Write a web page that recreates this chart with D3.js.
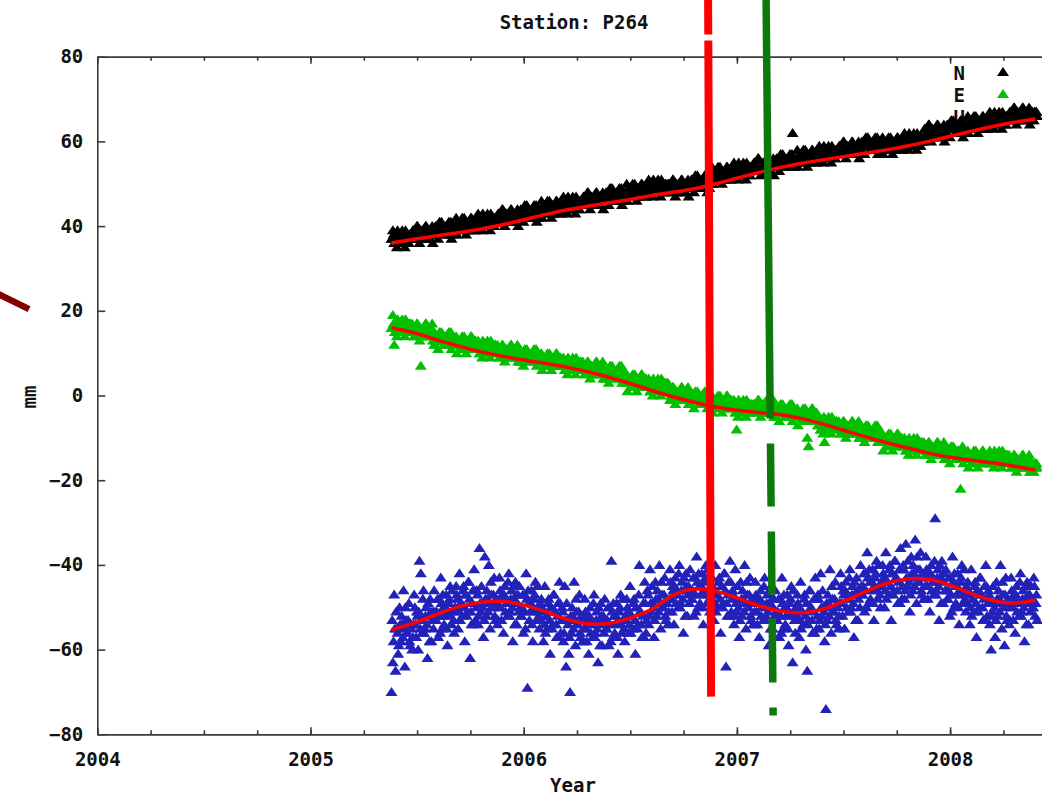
<!DOCTYPE html>
<html>
<head>
<meta charset="utf-8">
<title>Station: P264</title>
<script src="https://cdn.jsdelivr.net/npm/d3@7"></script>
<style>
body{margin:0;background:#fff;overflow:hidden;}
svg text{font-family:"DejaVu Sans Mono",monospace;font-weight:bold;fill:#111;}
</style>
</head>
<body>
<div id="chart"></div>
<script>
//------- Data
// solutions are read every 0.00625 yr starting at the first epoch,
// the *Mid arrays hold the solutions half a step later
var firstEpoch = 2005.38, epochStep = 0.00625;

// North (mm), 16 values per 0.1 yr
var northValues = [
	37,39,36,38,35,37,38,36,39,37,35,38,37,36,38,37,
	39,37,38,40,38,36,39,38,37,39,40,38,37,38,39,36,
	38,40,39,37,41,39,40,38,39,40,39,41,38,37,40,39,
	40,38,41,40,39,42,40,41,38,40,39,41,42,40,39,41,
	41,43,40,42,39,41,42,40,43,41,39,42,41,40,42,41,
	43,41,42,44,42,40,43,42,41,43,44,42,41,42,43,40,
	42,44,43,41,45,43,44,42,43,44,43,45,42,41,44,43,
	44,42,45,44,43,46,44,45,42,44,43,45,46,44,43,45,
	45,47,44,46,43,45,46,44,47,45,43,46,45,44,46,45,
	47,45,46,48,46,44,47,46,45,47,48,46,45,46,47,44,
	46,48,47,45,49,47,48,46,47,48,47,49,46,45,48,47,
	48,46,49,48,47,50,48,49,46,48,47,49,50,48,47,49,
	49,51,48,50,47,49,50,48,51,49,47,50,49,48,50,49,
	50,48,49,51,49,47,50,49,48,50,51,49,48,49,50,47,
	49,51,50,48,52,50,51,49,50,51,50,52,49,48,51,50,
	52,50,53,52,51,54,52,53,50,52,51,53,54,52,51,53,
	53,55,52,54,51,53,54,52,55,53,51,54,53,52,54,53,
	55,53,54,56,54,52,55,54,53,55,56,54,53,54,55,52,
	54,56,55,53,57,55,56,54,55,56,55,57,54,62,56,55,
	56,54,57,56,55,58,56,57,54,56,55,57,58,56,55,57,
	57,59,56,58,55,57,58,56,59,57,55,58,57,56,58,57,
	59,57,58,60,58,56,59,58,57,59,60,58,57,58,59,56,
	58,60,59,57,61,59,60,58,59,60,59,61,58,57,60,59,
	59,57,60,59,58,61,59,60,57,59,58,60,61,59,58,60,
	60,62,59,61,58,60,61,59,62,60,58,61,60,59,61,60,
	63,61,62,64,62,60,63,62,61,63,64,62,61,62,63,60,
	62,64,63,61,65,63,64,62,63,64,63,65,62,61,64,63,
	64,62,65,64,63,66,64,65,62,64,63,65,66,64,63,65,
	65,67,64,66,63,65,66,64,67,65,63,66,65,64,66,65,
	67,65,66,68,66,64,67,66,65,67,68,66,65,66,67,64,
	66,67,65,66,67
];
var northValuesMid = [
	37,38,36,37,39,38,37,36,38,37,39,37,36,38,37,38,
	39,37,38,40,38,39,37,39,38,40,39,37,38,39,40,38,
	38,39,40,40,39,41,40,39,38,40,39,40,41,39,38,39,
	42,40,41,39,41,40,42,40,41,39,40,42,41,40,41,39,
	41,42,40,41,43,42,41,40,42,41,43,41,40,42,41,42,
	43,41,42,44,42,43,41,43,42,44,43,41,42,43,44,42,
	42,43,44,44,43,45,44,43,42,44,43,44,45,43,42,43,
	46,44,45,43,45,44,46,44,45,43,44,46,45,44,45,43,
	45,46,44,45,47,46,45,44,46,45,47,45,44,46,45,46,
	47,45,46,48,46,47,45,47,46,48,47,45,46,47,48,46,
	46,47,48,48,47,49,48,47,46,48,47,48,49,47,46,47,
	50,48,49,47,49,48,50,48,49,47,48,50,49,48,49,47,
	49,50,48,49,51,50,49,48,50,49,51,49,48,50,49,50,
	50,48,49,51,49,50,48,50,49,51,50,48,49,50,51,49,
	49,50,51,51,50,52,51,50,49,51,50,51,52,50,49,50,
	54,52,53,51,53,52,54,52,53,51,52,54,53,52,53,51,
	53,54,52,53,55,54,53,52,54,53,55,53,52,54,53,54,
	55,53,54,56,54,55,53,55,54,56,55,53,54,55,56,54,
	54,55,56,56,55,57,56,55,54,56,55,56,57,55,54,55,
	58,56,57,55,57,56,58,56,57,55,56,58,57,56,57,55,
	57,58,56,57,59,58,57,56,58,57,59,57,56,58,57,58,
	59,57,58,60,58,59,57,59,58,60,59,57,58,59,60,58,
	58,59,60,60,59,61,60,59,58,60,59,60,61,59,58,59,
	61,59,60,58,60,59,61,59,60,58,59,61,60,59,60,58,
	60,61,59,60,62,61,60,59,61,60,62,60,59,61,60,61,
	63,61,62,64,62,63,61,63,62,64,63,61,62,63,64,62,
	62,63,64,64,63,65,64,63,62,64,63,64,65,63,62,63,
	66,64,65,63,65,64,66,64,65,63,64,66,65,64,65,63,
	65,66,64,65,67,66,65,64,66,65,67,65,64,66,65,66,
	67,65,66,68,66,67,65,67,66,68,67,65,66,67,68,66,
	65,66,67,67,66
];

// East (mm)
var eastValues = [
	16,19,12,17,14,16,17,15,18,16,14,17,16,15,17,16,
	16,14,15,17,15,13,7,15,14,16,17,15,14,15,16,13,
	12,14,13,11,15,13,14,12,13,14,13,15,12,11,14,13,
	12,10,13,12,11,14,12,13,10,12,11,13,14,12,11,13,
	11,13,10,12,9,11,12,10,13,11,9,12,11,10,12,11,
	11,9,10,12,10,8,11,10,9,11,12,10,9,10,11,8,
	8,10,9,7,11,9,10,8,9,10,9,11,8,7,10,9,
	8,6,9,8,7,10,8,9,6,8,7,9,10,8,7,9,
	7,9,6,8,5,7,8,6,9,7,5,8,7,6,8,7,
	7,5,6,8,6,4,7,6,5,7,8,6,5,6,7,4,
	4,6,5,3,7,5,6,4,5,6,5,7,4,3,6,5,
	3,1,4,3,2,5,3,4,1,3,2,4,5,3,2,4,
	2,4,1,3,0,2,3,1,4,2,0,3,2,1,3,2,
	1,-1,0,2,0,-2,1,0,-1,1,2,0,-1,0,1,-2,
	-2,0,-1,-3,1,-1,0,-2,-1,0,-1,1,-2,-3,0,-1,
	-2,-4,-1,-2,-3,0,-2,-1,-4,-2,-3,-1,0,-2,-3,-1,
	-3,-1,-4,-8,-5,-3,-2,-4,-1,-3,-5,-2,-3,-4,-2,-3,
	-2,-4,-3,-1,-3,-5,-2,-3,-4,-2,-1,-3,-4,-3,-2,-5,
	-5,-3,-4,-6,-2,-4,-3,-5,-4,-3,-4,-2,-5,-6,-3,-4,
	-5,-7,-4,-5,-6,-3,-5,-4,-10,-12,-6,-4,-3,-5,-6,-4,
	-7,-5,-8,-6,-9,-11,-6,-8,-5,-7,-9,-6,-7,-8,-6,-7,
	-7,-9,-8,-6,-8,-10,-7,-8,-9,-7,-6,-8,-9,-8,-7,-10,
	-10,-8,-9,-11,-7,-9,-8,-10,-9,-8,-9,-7,-10,-11,-8,-9,
	-11,-13,-10,-11,-12,-9,-11,-10,-13,-11,-12,-10,-9,-11,-12,-10,
	-12,-10,-13,-11,-14,-12,-11,-13,-10,-12,-14,-11,-12,-13,-11,-12,
	-12,-14,-13,-11,-13,-15,-12,-13,-14,-12,-11,-13,-14,-13,-12,-15,
	-15,-13,-14,-16,-12,-14,-13,-15,-14,-13,-14,-22,-15,-16,-13,-14,
	-15,-17,-14,-15,-16,-13,-15,-14,-17,-15,-16,-14,-13,-15,-16,-14,
	-15,-13,-16,-14,-17,-15,-14,-16,-13,-15,-17,-14,-15,-16,-14,-15,
	-15,-17,-16,-14,-16,-18,-15,-16,-17,-15,-14,-16,-17,-16,-15,-18,
	-17,-16,-18,-17,-16
];
var eastValuesMid = [
	16,17,15,16,18,17,16,15,17,16,18,16,15,17,16,17,
	16,14,15,17,15,16,14,16,15,17,16,14,15,16,17,15,
	12,13,14,14,13,15,14,13,12,14,13,14,15,13,12,13,
	14,12,13,11,13,12,14,12,13,11,12,14,13,12,13,11,
	11,12,10,11,13,12,11,10,12,11,13,11,10,12,11,12,
	11,9,10,12,10,11,9,11,10,12,11,9,10,11,12,10,
	8,9,10,10,9,11,10,9,8,10,9,10,11,9,8,9,
	10,8,9,7,9,8,10,8,9,7,8,10,9,8,9,7,
	7,8,6,7,9,8,7,6,8,7,9,7,6,8,7,8,
	7,5,6,8,6,7,5,7,6,8,7,5,6,7,8,6,
	4,5,6,6,5,7,6,5,4,6,5,6,7,5,4,5,
	5,3,4,2,4,3,5,3,4,2,3,5,4,3,4,2,
	2,3,1,2,4,3,2,1,3,2,4,2,1,3,2,3,
	1,-1,0,2,0,1,-1,1,0,2,1,-1,0,1,2,0,
	-2,-1,0,0,-1,1,0,-1,-2,0,-1,0,1,-1,-2,-1,
	0,-2,-1,-3,-1,-2,0,-2,-1,-3,-2,0,-1,-2,-1,-3,
	-3,-2,-4,-3,-1,-2,-3,-4,-2,-3,-1,-3,-4,-2,-3,-2,
	-2,-4,-3,-1,-3,-2,-4,-2,-3,-1,-2,-4,-3,-2,-1,-3,
	-5,-4,-3,-3,-4,-2,-3,-4,-5,-3,-4,-3,-2,-4,-5,-4,
	-3,-5,-4,-6,-4,-5,-3,-5,-4,-6,-5,-3,-4,-5,-4,-6,
	-7,-6,-8,-7,-5,-6,-7,-8,-6,-7,-5,-7,-8,-6,-7,-6,
	-7,-9,-8,-6,-8,-7,-9,-7,-8,-6,-7,-9,-8,-7,-6,-8,
	-10,-9,-8,-8,-9,-7,-8,-9,-10,-8,-9,-8,-7,-9,-10,-9,
	-9,-11,-10,-12,-10,-11,-9,-11,-10,-12,-11,-9,-10,-11,-10,-12,
	-12,-11,-13,-12,-10,-11,-12,-13,-11,-12,-10,-12,-13,-11,-12,-11,
	-12,-14,-13,-11,-13,-12,-14,-12,-13,-11,-12,-14,-13,-12,-11,-13,
	-15,-14,-13,-13,-14,-12,-13,-14,-15,-13,-14,-13,-12,-14,-15,-14,
	-13,-15,-14,-16,-14,-15,-13,-15,-14,-16,-15,-13,-14,-15,-14,-16,
	-15,-14,-16,-15,-13,-14,-15,-16,-14,-15,-13,-15,-16,-14,-15,-14,
	-15,-17,-16,-14,-16,-15,-17,-15,-16,-14,-15,-17,-16,-15,-14,-16,
	-18,-17,-16,-16,-17
];

// Up (mm)
var upValues = [
	-70,-63,-47,-65,-55,-61,-50,-58,-54,-46,-64,-53,-56,-49,-59,-55,
	-57,-47,-54,-51,-60,-39,-42,-56,-46,-55,-50,-62,-52,-48,-58,-51,
	-46,-53,-51,-57,-48,-43,-55,-50,-52,-47,-59,-49,-45,-54,-51,-56,
	-50,-47,-55,-42,-49,-52,-45,-58,-47,-51,-44,-62,-54,-46,-41,-53,
	-46,-54,-36,-51,-49,-57,-38,-52,-48,-40,-55,-47,-50,-43,-53,-49,
	-53,-43,-50,-47,-56,-45,-49,-52,-42,-51,-46,-58,-48,-44,-54,-47,
	-45,-52,-50,-56,-47,-42,-69,-49,-51,-46,-58,-48,-44,-53,-50,-55,
	-53,-50,-58,-45,-52,-55,-48,-61,-50,-54,-47,-51,-57,-49,-44,-56,
	-50,-58,-45,-64,-53,-61,-70,-56,-52,-44,-59,-51,-54,-47,-57,-53,
	-58,-48,-55,-52,-61,-50,-54,-57,-47,-56,-51,-63,-53,-49,-59,-52,
	-48,-55,-53,-59,-50,-39,-57,-52,-54,-49,-61,-51,-47,-56,-53,-58,
	-53,-50,-56,-45,-52,-55,-48,-61,-50,-54,-40,-51,-57,-49,-44,-56,
	-46,-54,-41,-51,-49,-57,-44,-52,-48,-40,-55,-47,-50,-43,-53,-49,
	-51,-41,-48,-45,-54,-43,-47,-50,-40,-49,-44,-56,-46,-42,-52,-45,
	-41,-48,-46,-52,-43,-38,-50,-45,-47,-42,-54,-44,-40,-49,-46,-51,
	-48,-45,-53,-40,-47,-50,-43,-56,-45,-49,-42,-64,-52,-44,-39,-51,
	-46,-54,-41,-51,-49,-57,-44,-52,-48,-40,-55,-47,-50,-43,-53,-49,
	-54,-44,-51,-48,-57,-46,-50,-53,-43,-52,-47,-59,-49,-45,-55,-48,
	-46,-53,-51,-57,-48,-43,-55,-50,-52,-47,-59,-49,-45,-63,-51,-56,
	-52,-49,-57,-44,-51,-54,-47,-60,-65,-53,-46,-50,-56,-48,-43,-55,
	-47,-55,-42,-52,-50,-58,-74,-53,-49,-41,-56,-48,-51,-44,-54,-50,
	-52,-42,-49,-46,-55,-44,-48,-51,-41,-50,-45,-57,-47,-43,-53,-46,
	-40,-47,-45,-51,-42,-37,-49,-44,-46,-41,-53,-43,-39,-48,-45,-50,
	-45,-42,-50,-37,-44,-47,-40,-53,-42,-46,-39,-43,-49,-41,-36,-48,
	-40,-48,-35,-45,-43,-51,-38,-46,-42,-34,-49,-41,-44,-37,-47,-43,
	-48,-38,-45,-42,-51,-40,-44,-47,-29,-46,-41,-53,-43,-39,-49,-42,
	-41,-48,-46,-52,-43,-38,-50,-45,-47,-42,-54,-44,-40,-49,-46,-51,
	-49,-46,-54,-41,-48,-51,-44,-57,-46,-50,-43,-47,-53,-45,-40,-52,
	-46,-54,-60,-51,-49,-57,-44,-52,-48,-40,-55,-47,-59,-43,-53,-49,
	-53,-43,-50,-47,-56,-45,-49,-52,-42,-51,-46,-58,-48,-44,-54,-47,
	-45,-50,-43,-52,-47
];
var upValuesMid = [
	-53,-58,-55,-51,-56,-59,-54,-52,-57,-55,-50,-56,-53,-58,-54,-60,
	-54,-50,-57,-52,-51,-55,-53,-48,-56,-52,-54,-49,-58,-51,-53,-55,
	-51,-53,-48,-52,-56,-49,-47,-54,-50,-55,-51,-48,-52,-46,-53,-50,
	-45,-48,-51,-53,-49,-46,-50,-47,-52,-44,-48,-51,-49,-54,-46,-50,
	-47,-52,-49,-45,-50,-53,-48,-46,-51,-49,-44,-50,-47,-52,-48,-54,
	-50,-46,-53,-48,-47,-51,-49,-44,-52,-48,-50,-45,-54,-47,-49,-51,
	-50,-52,-47,-51,-55,-48,-46,-53,-49,-54,-50,-47,-51,-45,-52,-49,
	-48,-51,-54,-56,-52,-49,-53,-50,-55,-47,-51,-54,-52,-57,-49,-53,
	-51,-56,-53,-49,-54,-57,-52,-50,-55,-53,-48,-54,-51,-56,-52,-58,
	-55,-51,-58,-53,-52,-56,-54,-49,-57,-53,-55,-50,-59,-52,-54,-56,
	-53,-55,-50,-54,-58,-51,-49,-56,-52,-57,-53,-50,-54,-48,-55,-52,
	-48,-51,-54,-56,-52,-49,-53,-50,-55,-47,-51,-54,-52,-57,-49,-53,
	-47,-52,-49,-45,-50,-53,-48,-46,-51,-49,-44,-50,-47,-52,-48,-54,
	-48,-44,-51,-46,-45,-49,-47,-42,-50,-46,-48,-43,-52,-45,-47,-49,
	-46,-48,-43,-47,-51,-44,-42,-49,-45,-50,-46,-43,-47,-41,-48,-45,
	-43,-46,-49,-51,-47,-44,-48,-45,-50,-42,-46,-49,-47,-52,-44,-48,
	-47,-52,-49,-45,-50,-53,-48,-46,-51,-49,-44,-50,-47,-52,-48,-54,
	-51,-47,-54,-49,-48,-52,-50,-45,-53,-49,-51,-46,-55,-48,-50,-52,
	-51,-53,-48,-52,-56,-49,-47,-54,-50,-55,-51,-48,-52,-46,-53,-50,
	-47,-50,-53,-55,-51,-48,-52,-49,-54,-46,-50,-53,-51,-56,-48,-52,
	-48,-53,-50,-46,-51,-54,-49,-47,-52,-50,-45,-51,-48,-53,-49,-55,
	-49,-45,-52,-47,-46,-50,-48,-43,-51,-47,-49,-44,-53,-46,-48,-50,
	-45,-47,-42,-46,-50,-43,-41,-48,-44,-49,-45,-42,-46,-40,-47,-44,
	-40,-43,-46,-48,-44,-41,-45,-42,-47,-39,-43,-46,-44,-49,-41,-45,
	-41,-46,-43,-39,-44,-47,-42,-40,-45,-43,-38,-44,-41,-46,-42,-48,
	-45,-41,-48,-43,-42,-46,-44,-39,-47,-43,-45,-40,-49,-42,-44,-46,
	-46,-48,-43,-47,-51,-44,-42,-49,-45,-50,-46,-43,-47,-41,-48,-45,
	-44,-47,-50,-52,-48,-45,-49,-46,-51,-43,-47,-50,-48,-53,-45,-49,
	-47,-52,-49,-45,-50,-53,-48,-46,-51,-49,-44,-50,-47,-52,-48,-54,
	-50,-46,-53,-48,-47,-51,-49,-44,-52,-48,-50,-45,-54,-47,-49,-51,
	-48,-50,-45,-49,-53
];

// red model curves
var fitYears = [2005.38,2005.5,2005.6,2005.7,2005.8,2005.9,2006.0,2006.1,2006.2,2006.3,2006.4,
	2006.5,2006.6,2006.7,2006.8,2006.9,2007.0,2007.1,2007.2,2007.3,2007.4,
	2007.5,2007.6,2007.7,2007.8,2007.9,2008.0,2008.1,2008.2,2008.3,2008.4];
var northFit = [36.0,37.0,37.8,38.5,39.3,40.3,41.5,42.7,43.8,44.7,45.5,
	46.3,47.2,48.0,48.8,50.0,51.3,52.6,53.8,54.8,55.6,
	56.4,57.2,58.0,58.9,60.0,61.2,62.4,63.5,64.5,65.3];
var eastFit = [16.0,14.6,13.0,11.6,10.3,9.3,8.4,7.6,6.7,5.6,4.3,
	2.8,1.2,-0.3,-1.6,-2.7,-3.5,-4.0,-4.5,-5.4,-6.7,
	-8.2,-9.7,-11.1,-12.4,-13.6,-14.6,-15.3,-15.9,-16.7,-17.6];
var upFit = [-55.3,-53.5,-51.5,-49.8,-48.8,-48.6,-49.5,-51.0,-52.8,-53.9,-53.8,
	-52.5,-50.5,-47.2,-45.7,-46.2,-47.8,-49.6,-50.9,-51.3,-50.5,
	-48.6,-46.4,-44.4,-43.3,-43.4,-44.8,-46.8,-48.4,-49.0,-48.3];

var xTicks = [2004, 2005, 2006, 2007, 2008];
var yTicks = [-80, -60, -40, -20, 0, 20, 40, 60, 80];
var legendLabels = ["N", "E", "U"];

// event markers drawn over the plot: [year at top, year at bottom, mm at top, mm at bottom]
var redEvent = [2006.865, 2006.879, 93.5, -71.1];
var greenEvent = [2007.137, 2007.170, 93.5, -75.6];
var slashMark = [2003.50, 2003.68, 24.8, 20.4];

//------- Drawing
var w = 1042, h = 797;
var colors = {N: "#000000", E: "#00c000", U: "#2222bb"};

var svg = d3.select("#chart").append("svg")
	.attr("width", w)
	.attr("height", h);

var x = d3.scaleLinear().domain([2004, 2008.5]).range([97.3, 97.3 + 4.5 * 213.2]);
var y = d3.scaleLinear().domain([-80, 80]).range([734.3, 56.7]);

var minorTicks = d3.range(2004, 2008.76, 0.25);

function styleAxis(g){
	g.selectAll("path.domain").attr("stroke", "#3a3a3a").attr("stroke-width", 1.6);
	g.selectAll(".tick line").attr("stroke", "#3a3a3a").attr("stroke-width", 1.6);
	g.selectAll("text").attr("font-size", 19).attr("fill", "#111")
		.attr("font-family", "'DejaVu Sans Mono', monospace").attr("font-weight", "bold");
}

// bottom axis
svg.append("g")
	.attr("transform", "translate(0," + y(-80) + ")")
	.call(d3.axisBottom(x).tickValues(minorTicks).tickSizeInner(-4).tickSizeOuter(0).tickFormat(""))
	.call(styleAxis);
svg.append("g")
	.attr("transform", "translate(0," + y(-80) + ")")
	.call(d3.axisBottom(x).tickValues(xTicks).tickSizeInner(-7).tickSizeOuter(0).tickPadding(18).tickFormat(d3.format("d")))
	.call(styleAxis);

// top axis (mirrored ticks)
svg.append("g")
	.attr("transform", "translate(0," + y(80) + ")")
	.call(d3.axisTop(x).tickValues(minorTicks).tickSizeInner(-4).tickSizeOuter(0).tickFormat(""))
	.call(styleAxis);
svg.append("g")
	.attr("transform", "translate(0," + y(80) + ")")
	.call(d3.axisTop(x).tickValues(xTicks).tickSizeInner(-7).tickSizeOuter(0).tickFormat(""))
	.call(styleAxis);

// left axis
svg.append("g")
	.attr("transform", "translate(" + x(2004) + ",0)")
	.call(d3.axisLeft(y).tickValues(yTicks).tickSizeInner(-8).tickSizeOuter(0).tickPadding(14))
	.call(styleAxis);

// titles
svg.append("text")
	.attr("x", 574).attr("y", 29)
	.attr("text-anchor", "middle")
	.attr("font-size", 19)
	.text("Station: P264");
svg.append("text")
	.attr("x", 573).attr("y", 792)
	.attr("text-anchor", "middle")
	.attr("font-size", 19)
	.text("Year");
svg.append("text")
	.attr("transform", "translate(36,397) rotate(-90)")
	.attr("text-anchor", "middle")
	.attr("font-size", 19)
	.text("mm");

var triangle = "M0,-5L6,4L-6,4Z";

// legend (drawn under the data, like the original)
var legend = svg.append("g");
legendLabels.forEach(function(lab, i){
	legend.append("text")
		.attr("x", 965).attr("y", 80 + i * 22)
		.attr("text-anchor", "end")
		.attr("font-size", 19)
		.text(lab);
	legend.append("path")
		.attr("d", triangle)
		.attr("transform", "translate(1003," + (72 + i * 22) + ")")
		.attr("fill", colors[lab]);
});

function epochs(values, shift){
	return values.map(function(v, i){ return {t: firstEpoch + (i + shift) * epochStep, v: v}; });
}

function drawSeries(values, midValues, color){
	var pts = epochs(values, 0).concat(epochs(midValues, 0.5));
	svg.append("g").selectAll("path")
		.data(pts)
		.enter().append("path")
		.attr("d", triangle)
		.attr("transform", function(d){ return "translate(" + x(d.t) + "," + y(d.v) + ")"; })
		.attr("fill", color);
}

drawSeries(northValues, northValuesMid, colors.N);
drawSeries(eastValues, eastValuesMid, colors.E);
drawSeries(upValues, upValuesMid, colors.U);

var fitLine = d3.line()
	.x(function(d){ return x(d[0]); })
	.y(function(d){ return y(d[1]); })
	.curve(d3.curveCatmullRom);

[northFit, eastFit, upFit].forEach(function(fit){
	svg.append("path")
		.datum(d3.zip(fitYears, fit))
		.attr("d", fitLine)
		.attr("fill", "none")
		.attr("stroke", "#ff0000")
		.attr("stroke-width", 3.5);
});

// event lines
function eventLine(ev, color, width, dash){
	svg.append("line")
		.attr("x1", x(ev[0])).attr("y1", y(ev[2]))
		.attr("x2", x(ev[1])).attr("y2", y(ev[3]))
		.attr("stroke", color)
		.attr("stroke-width", width)
		.attr("stroke-dasharray", dash);
}
eventLine(redEvent, "#ff0000", 8, "35,6,2000");
eventLine(greenEvent, "#0b7a0b", 7.5, "419,25,63,25,63,24,64,25,8,2000");
eventLine(slashMark, "#820000", 6.5, null);
</script>
</body>
</html>
